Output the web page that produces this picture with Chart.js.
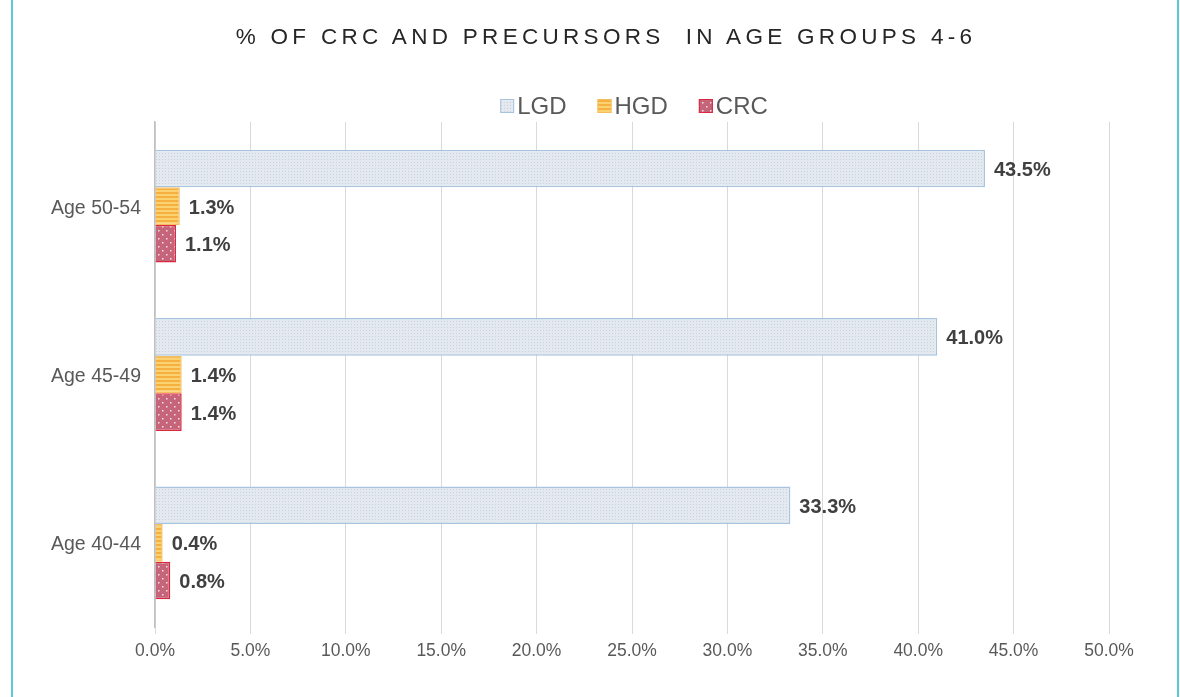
<!DOCTYPE html>
<html>
<head>
<meta charset="utf-8">
<script src="https://cdn.jsdelivr.net/npm/chart.js@4/dist/chart.umd.min.js"></script>
<style>
    html, body { margin: 0; padding: 0; background: #fff; }
    #wrap { position: relative; width: 1180px; height: 697px; overflow: hidden; }
    #wrap .edge { position: absolute; top: 0; bottom: 0; width: 2px; background: #5bc8dc; }
    #chart-title {
        position: absolute; top: 24px; left: 0; width: 1212px; text-align: center;
        font-family: "Liberation Sans", Arial, sans-serif; font-size: 22.5px;
        letter-spacing: 4.3px; color: #262626;
    }
</style>
</head>
<body>
<div id="wrap">
    <div class="edge" style="left: 11px;"></div>
    <div class="edge" style="left: 1177px;"></div>
    <div id="chart-title">% OF CRC AND PRECURSORS&nbsp; IN AGE GROUPS 4-6</div>
    <canvas id="crc-chart" width="1180" height="697"></canvas>
</div>
<script>
const categories = ['Age 50-54', 'Age 45-49', 'Age 40-44'];
const seriesNames = ['LGD', 'HGD', 'CRC'];
const lgdValues = [43.5, 41.0, 33.3];
const hgdValues = [1.3, 1.4, 0.4];
const crcValues = [1.1, 1.4, 0.8];
const xTicks = [0, 5, 10, 15, 20, 25, 30, 35, 40, 45, 50];

const FONT = '"Liberation Sans", Arial, sans-serif';

// small canvas patterns to mimic the textured Excel fills
function makePattern(w, h, draw) {
    const c = document.createElement('canvas');
    c.width = w;
    c.height = h;
    draw(c.getContext('2d'));
    return c.getContext('2d').createPattern(c, 'repeat');
}

const lgdFill = makePattern(3, 3, ctx => {
    ctx.fillStyle = '#e3e9ef';
    ctx.fillRect(0, 0, 3, 3);
    ctx.fillStyle = '#c6d1dc';
    ctx.fillRect(0, 0, 1, 1);
});

const hgdFill = makePattern(4, 4, ctx => {
    ctx.fillStyle = '#fbd272';
    ctx.fillRect(0, 0, 4, 4);
    ctx.fillStyle = '#f5b040';
    ctx.fillRect(0, 0, 4, 2);
});

const crcFill = makePattern(8, 8, ctx => {
    ctx.fillStyle = '#c66579';
    ctx.fillRect(0, 0, 8, 8);
    ctx.fillStyle = '#efe3f0';
    ctx.fillRect(2, 2, 1.5, 1.5);
    ctx.fillRect(6, 6, 1.5, 1.5);
});

// value labels at the end of each bar
const barLabels = {
    id: 'barLabels',
    afterDatasetsDraw(chart) {
        const { ctx } = chart;
        ctx.save();
        ctx.font = 'bold 20px ' + FONT;
        ctx.fillStyle = '#404040';
        ctx.textBaseline = 'middle';
        chart.data.datasets.forEach((ds, i) => {
            chart.getDatasetMeta(i).data.forEach((bar, j) => {
                ctx.fillText(ds.data[j].toFixed(1) + '%', bar.x + 9, bar.y + 2);
            });
        });
        ctx.restore();
    }
};

// legend centred over the plot area, like the Excel original
const plotLegend = {
    id: 'plotLegend',
    afterDraw(chart) {
        const { ctx, chartArea } = chart;
        const box = 14, gap = 3, spacing = 31, y = 106;
        ctx.save();
        ctx.font = '24px ' + FONT;
        ctx.textBaseline = 'middle';
        const items = chart.data.datasets.map(ds => ({
            ds, width: box + gap + ctx.measureText(ds.label).width
        }));
        const total = items.reduce((s, it) => s + it.width, 0) + spacing * (items.length - 1);
        let x = (chartArea.left + chartArea.right) / 2 + 2 - total / 2;
        items.forEach(({ ds, width }) => {
            ctx.fillStyle = ds.backgroundColor;
            ctx.fillRect(x, y - box / 2, box, box);
            ctx.strokeStyle = ds.borderColor;
            ctx.lineWidth = 1;
            ctx.strokeRect(x + 0.5, y - box / 2 + 0.5, box - 1, box - 1);
            ctx.fillStyle = '#595959';
            ctx.fillText(ds.label, x + box + gap, y + 1);
            x += width + spacing;
        });
        ctx.restore();
    }
};

new Chart(document.getElementById('crc-chart'), {
    type: 'bar',
    data: {
        labels: categories,
        datasets: [
            {
                label: seriesNames[0],
                data: lgdValues,
                backgroundColor: lgdFill,
                borderColor: '#a9c4df',
                borderWidth: 1.5
            },
            {
                label: seriesNames[1],
                data: hgdValues,
                backgroundColor: hgdFill,
                borderColor: '#f6bd5e',
                borderWidth: 1.5
            },
            {
                label: seriesNames[2],
                data: crcValues,
                backgroundColor: crcFill,
                borderColor: '#d9283f',
                borderWidth: 1.5
            }
        ]
    },
    options: {
        indexAxis: 'y',
        responsive: false,
        animation: false,
        layout: {
            padding: { top: 122, right: 71, bottom: 0, left: 0 }
        },
        datasets: {
            bar: {
                categoryPercentage: 0.67,
                barPercentage: 1.0
            }
        },
        scales: {
            x: {
                min: 0,
                max: 50,
                afterBuildTicks: scale => {
                    scale.ticks = xTicks.map(v => ({ value: v }));
                },
                afterFit: scale => { scale.height = 70; },
                grid: {
                    color: '#d9d9d9',
                    lineWidth: 1,
                    tickLength: 7
                },
                border: { display: false },
                ticks: {
                    padding: 7,
                    color: '#595959',
                    font: { family: FONT, size: 17.5 },
                    callback: value => value.toFixed(1) + '%'
                }
            },
            y: {
                afterFit: scale => { scale.width = 155; },
                grid: { display: false },
                border: { display: true, color: '#bfbfbf', width: 1.5 },
                ticks: {
                    padding: 6,
                    labelOffset: 2,
                    color: '#595959',
                    font: { family: FONT, size: 19.5 }
                }
            }
        },
        plugins: {
            legend: { display: false },
            tooltip: { enabled: false }
        }
    },
    plugins: [barLabels, plotLegend]
});
</script>
</body>
</html>
